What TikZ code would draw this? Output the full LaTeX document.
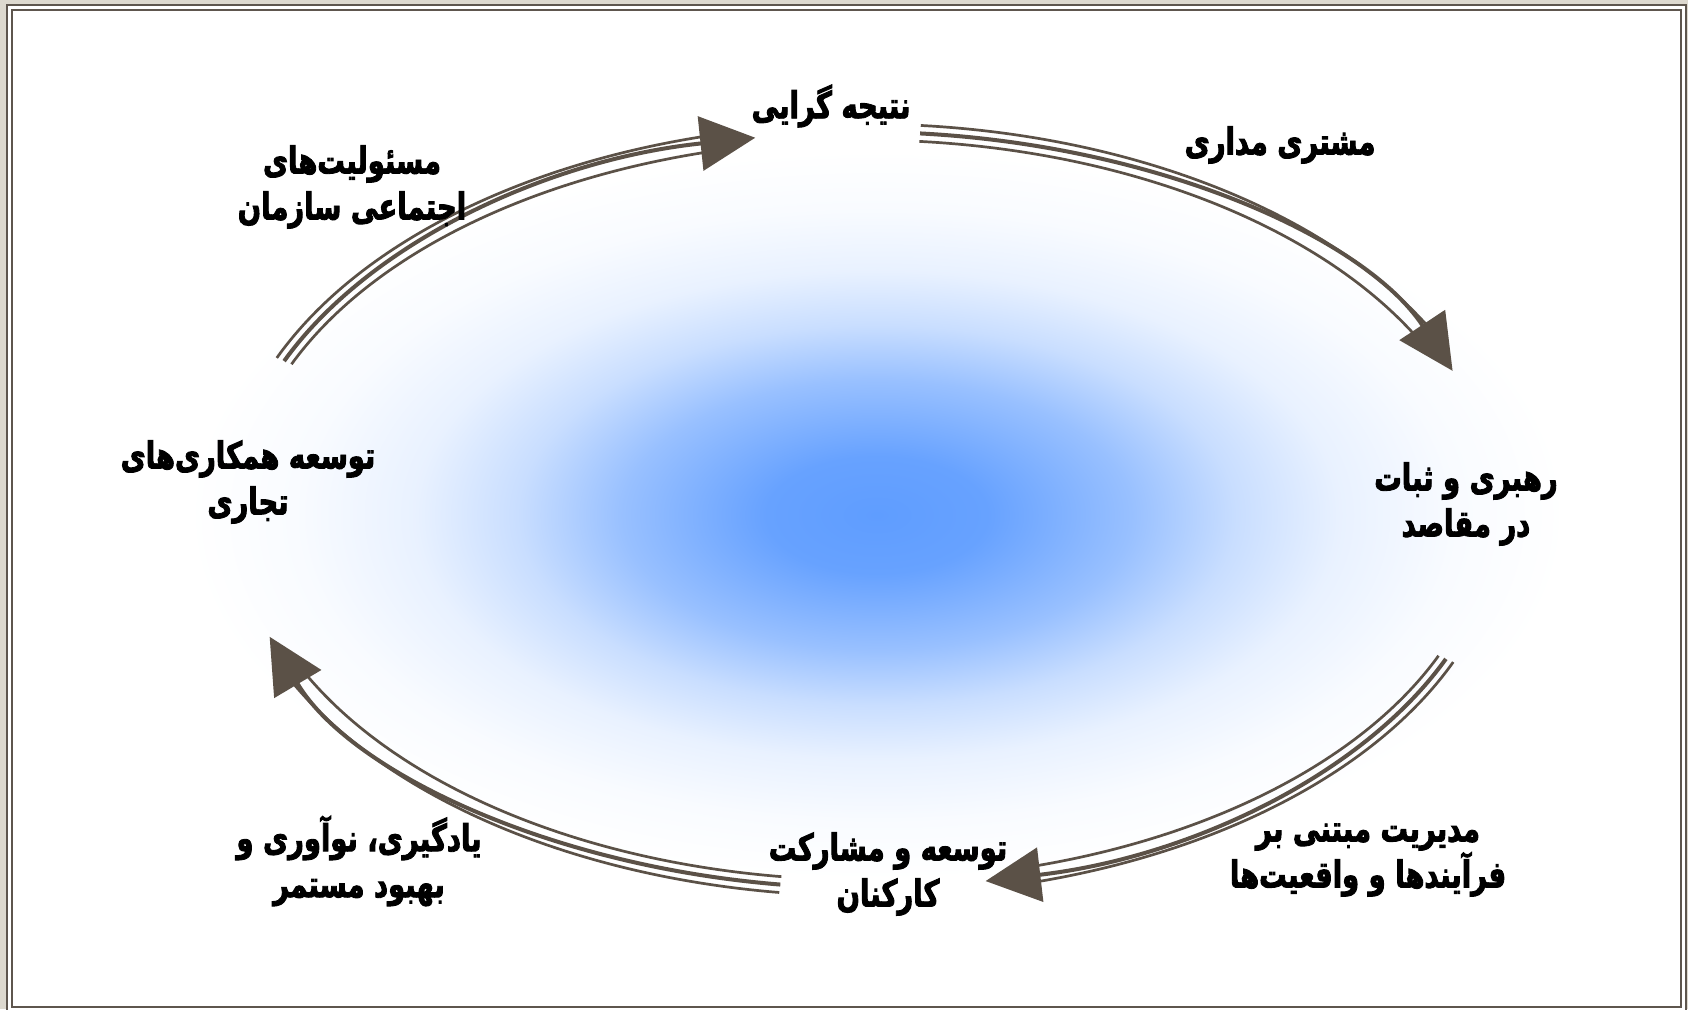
\documentclass[tikz,border=0pt]{standalone}
\usepackage{fontspec}
\newfontfamily\fafont[Script=Arabic, FakeBold=2.4, FakeStretch=0.74]{DejaVu Sans Bold}
\TeXXeTstate=1
\usetikzlibrary{arrows.meta}
\definecolor{arrowgray}{HTML}{5B5147}
\definecolor{framegray}{HTML}{5E564E}
\definecolor{pagebeige}{HTML}{DDD9CF}
\definecolor{blobblue}{HTML}{5F9DFF}
\pgfdeclareradialshading{blob}{\pgfpointorigin}{color(0bp)=(blobblue); color(4bp)=(blobblue!95!white); color(9.25bp)=(blobblue!64!white); color(13bp)=(blobblue!34!white); color(16.75bp)=(blobblue!14!white); color(21bp)=(blobblue!4!white); color(25bp)=(white); color(50bp)=(white)}
\newcommand{\fa}[1]{\beginR #1\endR}
% start angle, tip angle, end of the side lines
\newcommand{\triarc}[3]{%
  \draw[sideline] ([shift={(#1:640 and 386)}]ctr) arc[start angle=#1, end angle=#3, x radius=640, y radius=386];
  \draw[sideline] ([shift={(#1:624 and 370)}]ctr) arc[start angle=#1, end angle=#3, x radius=624, y radius=370];
  \draw[midline] ([shift={(#1:632 and 378)}]ctr) arc[start angle=#1, end angle=#2, x radius=632, y radius=378];
}

\begin{document}
\begin{tikzpicture}[
  x=1pt, y=1pt,
  lbl/.style={font=\fafont\fontsize{37}{46}\selectfont, align=center, inner sep=0pt},
  sideline/.style={draw=arrowgray, line width=2.7pt},
  midline/.style={draw=arrowgray, line width=4pt, -{Triangle[length=55pt, width=54pt]}},
  frameline/.style={draw=framegray, line width=2.5pt},
]
\useasboundingbox (0,0) rectangle (1688,1009);
\fill[pagebeige] (0,0) rectangle (1688,1009);
\fill[white] (7,-3) rectangle (1686,1004);
\begin{scope}
  \clip (12,2) rectangle (1681,999);
  \shade[shading=blob] (877,494) ellipse [x radius=690, y radius=365];
\end{scope}
\draw[frameline] (7,-3) rectangle (1686,1004);
\draw[frameline] (12,2) rectangle (1681,999);

\coordinate (ctr) at (865,499);
\triarc{156.8}{100}{104.5}
\triarc{85}{21.6}{28.5}
\triarc{-23.2}{-79}{-74.5}
\triarc{262.3}{199.6}{206.5}

\node[lbl] (c-top) at (831,903) {\fa{نتیجه گرایی}};
\node[lbl] (c-cust) at (1280,864) {\fa{مشتری مداری}};
\node[lbl] (c-lead) at (1466,505) {\fa{رهبری و ثبات}\\\fa{در مقاصد}};
\node[lbl] (c-proc) at (1368,149) {\fa{مدیریت مبتنی بر}\\\fa{فرآیندها و واقعیت^^^^200cها}};
\node[lbl] (c-staff) at (888,135) {\fa{توسعه و مشارکت}\\\fa{کارکنان}};
\node[lbl] (c-learn) at (359,148) {\fa{یادگیری، نوآوری و}\\\fa{بهبود مستمر}};
\node[lbl] (c-part) at (248,527) {\fa{توسعه همکاری^^^^200cهای}\\\fa{تجاری}};
\node[lbl] (c-soc) at (352,822) {\fa{مسئولیت^^^^200cهای}\\\fa{اجتماعی سازمان}};

\end{tikzpicture}
\end{document}
